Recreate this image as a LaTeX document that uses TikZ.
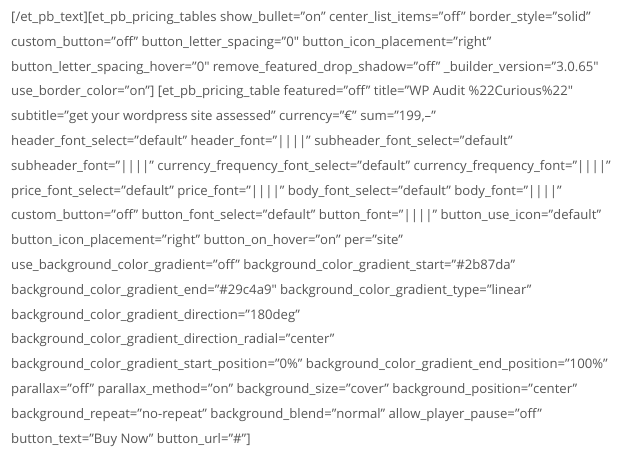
\documentclass[tikz,border=0pt]{standalone}
\usepackage{fontspec}
\setmainfont{Open Sans}
\usepackage{xcolor}
\definecolor{textgray}{HTML}{555555}
\tikzset{codeline/.style={anchor=base west,inner sep=0pt,text=textgray,font=\fontsize{13.15}{14}\selectfont}}
\newcommand{\lineskipsize}{24.8}
\newcommand{\prline}[2]{\node[codeline] (l#1) at (11,{21.5+\lineskipsize*(#1-1)}) {#2};}

\begin{document}
\begin{tikzpicture}[x=1pt,y=-1pt]
        \useasboundingbox (0,0) rectangle (640,462);

        \prline{1}{[/et\_pb\_text][et\_pb\_pricing\_tables show\_bullet=”on” center\_list\_items=”off” border\_style=”solid”}
        \prline{2}{custom\_button=”off” button\_letter\_spacing=”0″ button\_icon\_placement=”right”}
        \prline{3}{button\_letter\_spacing\_hover=”0″ remove\_featured\_drop\_shadow=”off” \_builder\_version=”3.0.65″}
        \prline{4}{use\_border\_color=”on”] [et\_pb\_pricing\_table featured=”off” title=”WP Audit \%22Curious\%22″}
        \prline{5}{subtitle=”get your wordpress site assessed” currency=”€” sum=”199,–”}
        \prline{6}{header\_font\_select=”default” header\_font=”||||” subheader\_font\_select=”default”}
        \prline{7}{subheader\_font=”||||” currency\_frequency\_font\_select=”default” currency\_frequency\_font=”||||”}
        \prline{8}{price\_font\_select=”default” price\_font=”||||” body\_font\_select=”default” body\_font=”||||”}
        \prline{9}{custom\_button=”off” button\_font\_select=”default” button\_font=”||||” button\_use\_icon=”default”}
        \prline{10}{button\_icon\_placement=”right” button\_on\_hover=”on” per=”site”}
        \prline{11}{use\_background\_color\_gradient=”off” background\_color\_gradient\_start=”\#2b87da”}
        \prline{12}{background\_color\_gradient\_end=”\#29c4a9″ background\_color\_gradient\_type=”linear”}
        \prline{13}{background\_color\_gradient\_direction=”180deg”}
        \prline{14}{background\_color\_gradient\_direction\_radial=”center”}
        \prline{15}{background\_color\_gradient\_start\_position=”0\%” background\_color\_gradient\_end\_position=”100\%”}
        \prline{16}{parallax=”off” parallax\_method=”on” background\_size=”cover” background\_position=”center”}
        \prline{17}{background\_repeat=”no-repeat” background\_blend=”normal” allow\_player\_pause=”off”}
        \prline{18}{button\_text=”Buy Now” button\_url=”\#”]}

    \end{tikzpicture}
\end{document}
